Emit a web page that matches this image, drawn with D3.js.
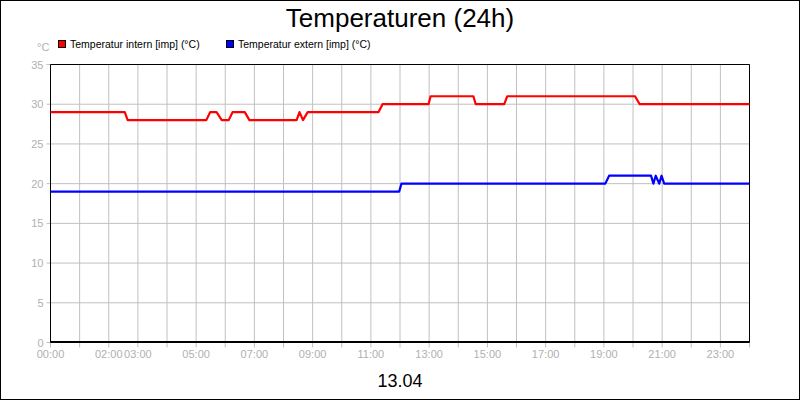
<!DOCTYPE html><html><head><meta charset="utf-8">
<script src="https://cdn.jsdelivr.net/npm/d3@7"></script>
<style>body{margin:0}svg{display:block}</style></head><body>
<svg id="c" width="800" height="400"></svg>
<script>
const title = "Temperaturen (24h)";
const dateLabel = "13.04";
const seriesNames = ["Temperatur intern [imp] (°C)", "Temperatur extern [imp] (°C)"];
const seriesColors = ["#ff0000", "#0000ff"];
const yTicks = [0,5,10,15,20,25,30,35];
const xTickHours = d3.range(0,25);
const xTickLabels = {0:"00:00",2:"02:00",3:"03:00",5:"05:00",7:"07:00",9:"09:00",11:"11:00",13:"13:00",15:"15:00",17:"17:00",19:"19:00",21:"21:00",23:"23:00"};
// hour, value
const internHours = [0,2.55,2.65,5.35,5.48,5.7,5.88,6.12,6.25,6.67,6.83,8.45,8.55,8.67,8.83,11.26,11.4,12.98,13.05,14.52,14.6,15.58,15.68,20.07,20.23,24];
const internVals  = [29,29,28,28,29,29,28,28,29,29,28,28,29,28,29,29,30,30,31,31,30,30,31,31,30,30];
const externHours = [0,11.97,12.05,19.05,19.18,20.62,20.7,20.78,20.9,20.98,21.07,24];
const externVals  = [19,19,20,20,21,21,20,21,20,21,20,20];

const svg = d3.select("#c");
const F = "'Liberation Sans Narrow','Liberation Sans',Arial,sans-serif";
svg.append("rect").attr("x",0.5).attr("y",0.5).attr("width",799).attr("height",399).attr("fill","#fff").attr("stroke","#000");
const L=50.5,R=749.5,T=64.5,B=342.5;
const x=d3.scaleLinear().domain([0,24]).range([L,R]);
const y=d3.scaleLinear().domain([0,35]).range([B,T]);
svg.append("g").selectAll("line").data(xTickHours).join("line")
 .attr("x1",d=>x(d)).attr("x2",d=>x(d)).attr("y1",T).attr("y2",B+5).attr("stroke","#c0c0c0");
svg.append("g").selectAll("line").data(yTicks).join("line")
 .attr("x1",L-4).attr("x2",R).attr("y1",d=>y(d)).attr("y2",d=>y(d)).attr("stroke","#c0c0c0");
svg.append("g").selectAll("text").data(yTicks).join("text")
 .attr("x",L-7).attr("y",d=>y(d)+4).attr("text-anchor","end").attr("fill","#b0b0b0")
 .attr("font-family",F).attr("font-size",11).text(d=>d);
svg.append("g").selectAll("text").data(xTickHours.filter(h=>xTickLabels[h])).join("text")
 .attr("x",d=>x(d)).attr("y",B+15).attr("text-anchor","middle").attr("fill","#b0b0b0")
 .attr("font-family",F).attr("font-size",11).text(d=>xTickLabels[d]);
svg.append("line").attr("x1",L).attr("x2",R).attr("y1",T).attr("y2",T).attr("stroke","#000");
svg.append("line").attr("x1",R).attr("x2",R).attr("y1",T).attr("y2",B).attr("stroke","#000");
svg.append("line").attr("x1",L).attr("x2",L).attr("y1",T).attr("y2",B).attr("stroke","#000");
svg.append("line").attr("x1",L).attr("x2",R).attr("y1",B-0.5).attr("y2",B-0.5).attr("stroke","#000").attr("stroke-width",2);
const line=d3.line().x(d=>x(d[0])).y(d=>y(d[1]));
[[internHours,internVals],[externHours,externVals]].forEach(([h,v],i)=>{
 svg.append("path").datum(h.map((hh,j)=>[hh,v[j]])).attr("d",line).attr("fill","none")
  .attr("stroke",seriesColors[i]).attr("stroke-width",2.2).attr("stroke-linejoin","round");
});
svg.append("text").attr("x",400).attr("y",27).attr("text-anchor","middle").attr("font-family","'Liberation Sans',Arial,sans-serif").attr("font-size",26).text(title);
svg.append("text").attr("x",400).attr("y",387).attr("text-anchor","middle").attr("font-family","'Liberation Sans',Arial,sans-serif").attr("font-size",18).text(dateLabel);
svg.append("text").attr("x",37).attr("y",51).attr("fill","#b0b0b0").attr("font-family",F).attr("font-size",11).text("°C");
const lx=[58,226];
seriesNames.forEach((n,i)=>{
 svg.append("rect").attr("x",lx[i]+0.5).attr("y",40.5).attr("width",7).attr("height",7).attr("fill",seriesColors[i]).attr("stroke","#000");
 svg.append("text").attr("x",lx[i]+12).attr("y",48).attr("font-family","'Liberation Sans',Arial,sans-serif").attr("font-size",10.5).text(n);
});
</script></body></html>
